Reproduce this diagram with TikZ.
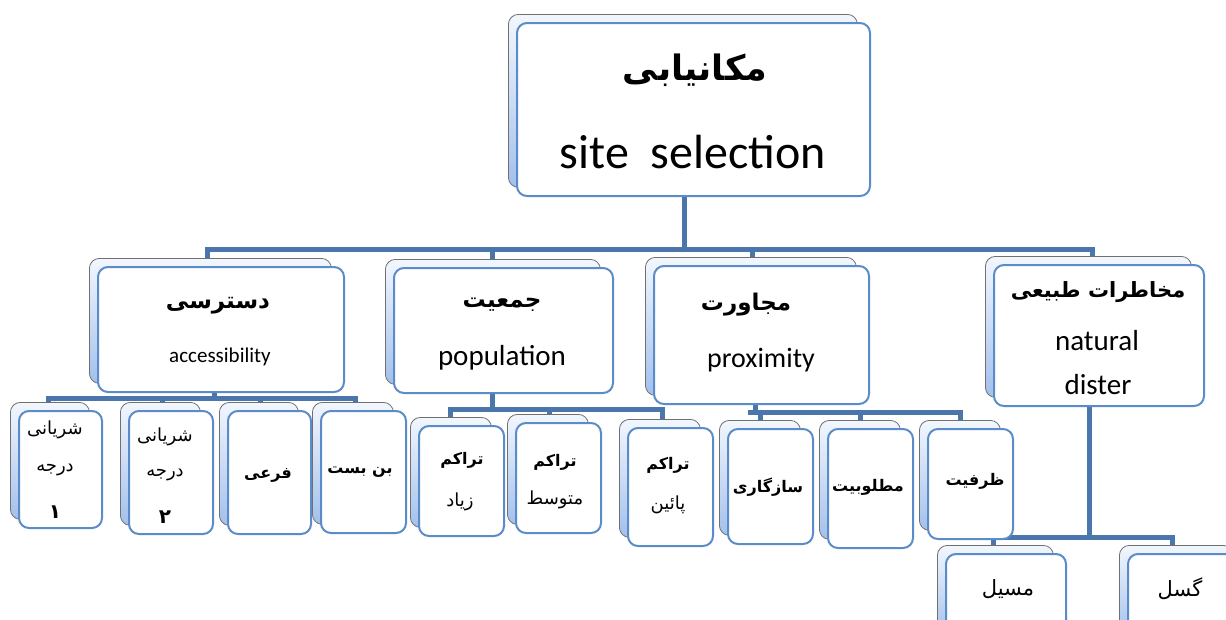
\documentclass[tikz,border=0pt]{standalone}
\usepackage{fontspec}
\setmainfont{Carlito}
\newfontfamily\fa[Script=Arabic]{DejaVu Sans}
\TeXXeTstate=1
\usetikzlibrary{backgrounds}
\definecolor{frontblue}{HTML}{5B8BC8}
\definecolor{connblue}{HTML}{4A76AC}
\definecolor{backgray}{HTML}{707070}
\definecolor{backtop}{HTML}{F2F7FE}
\definecolor{backbot}{HTML}{A2C0EC}
\tikzset{
  frontbox/.style={draw=frontblue, line width=2pt, fill=white, rounded corners=10pt, inner sep=0pt},
  backbox/.style={draw=backgray, line width=0.8pt, top color=backtop, bottom color=backbot, rounded corners=10pt, inner sep=0pt},
  conn/.style={draw=connblue, line width=5pt, line cap=rect},
  fatxt/.style={font=\fa, inner sep=0pt},
  entxt/.style={inner sep=0pt},
}
\newcommand\rtl[1]{\beginR #1\endR}
% #1 name, #2 x1, #3 y1, #4 x2, #5 y2 of the front box (pixels)
\newcommand\pairbox[5]{%
  \node[backbox, anchor=north west, minimum width={(#4-#2-4)*1pt}, minimum height={(#5-#3)*1pt}] (#1b) at ({#2-8},{#3-8}) {};
  \node[frontbox, anchor=north west, minimum width={(#4-#2)*1pt}, minimum height={(#5-#3)*1pt}] (#1) at (#2,#3) {};
}
\begin{document}
\begin{tikzpicture}[x=1pt,y=-1pt]
\useasboundingbox (0,0) rectangle (1226,619);

% boxes
\pairbox{top}{516}{22}{869}{195}
\pairbox{acc}{97}{266}{343}{391}
\pairbox{pop}{393}{267}{612}{392}
\pairbox{prox}{653}{265}{868}{403}
\pairbox{nat}{993}{264}{1203}{405}
\pairbox{aa}{18}{410}{101}{527}
\pairbox{ab}{128}{410}{212}{533}
\pairbox{ac}{227}{410}{310}{533}
\pairbox{ad}{320}{410}{405}{532}
\pairbox{pa}{418}{425}{503}{535}
\pairbox{pb}{515}{422}{600}{532}
\pairbox{pc}{627}{427}{712}{545}
\pairbox{xa}{727}{428}{812}{543}
\pairbox{xb}{827}{428}{912}{547}
\pairbox{xc}{927}{428}{1012}{538}
\pairbox{na}{945}{553}{1065}{645}
\pairbox{nb}{1127}{553}{1245}{645}

% connectors
\begin{scope}[on background layer]
  \fill[white] (0,0) rectangle (1226,619);
  \coordinate (c0) at (684,249);
  \coordinate (busL) at (207,249);
  \coordinate (busR) at (1092,249);
  \coordinate (dPop) at (492,249);
  \coordinate (dProx) at (752,249);
  \draw[conn] (c0 |- top.south) -- (c0);
  \draw[conn] (busL) -- (busR);
  \draw[conn] (busL) -- (busL |- accb.north);
  \draw[conn] (dPop) -- (dPop |- popb.north);
  \draw[conn] (dProx) -- (dProx |- proxb.north);
  \draw[conn] (busR) -- (busR |- natb.north);
  % accessibility children
  \coordinate (a0) at (214,398);
  \coordinate (aL) at (48,398);
  \coordinate (aR) at (355,398);
  \coordinate (a2) at (162,398);
  \coordinate (a3) at (260,398);
  \draw[conn] (a0 |- acc.south) -- (a0);
  \draw[conn] (aL) -- (aR);
  \draw[conn] (aL) -- (aL |- aab.north);
  \draw[conn] (a2) -- (a2 |- abb.north);
  \draw[conn] (a3) -- (a3 |- acb.north);
  \draw[conn] (aR) -- (aR |- adb.north);
  % population children
  \coordinate (p0) at (492,409);
  \coordinate (pL) at (450,409);
  \coordinate (pM) at (549,409);
  \coordinate (pR) at (662,409);
  \draw[conn] (p0 |- pop.south) -- (p0);
  \draw[conn] (pL) -- (pR);
  \draw[conn] (pL) -- (pL |- pab.north);
  \draw[conn] (pM) -- (pM |- pbb.north);
  \draw[conn] (pR) -- (pR |- pcb.north);
  % proximity children
  \coordinate (x0) at (755,412);
  \coordinate (xL) at (750,412);
  \coordinate (xA) at (760,412);
  \coordinate (xM) at (860,412);
  \coordinate (xR) at (960,412);
  \draw[conn] (x0 |- prox.south) -- (x0);
  \draw[conn] (xL) -- (xR);
  \draw[conn] (xA) -- (xA |- xab.north);
  \draw[conn] (xM) -- (xM |- xbb.north);
  \draw[conn] (xR) -- (xR |- xcb.north);
  % natural children
  \coordinate (n0) at (1089,537);
  \coordinate (nL) at (993,537);
  \coordinate (nR) at (1172,537);
  \draw[conn] (n0 |- nat.south) -- (n0);
  \draw[conn] (nL) -- (nR);
  \draw[conn] (nL) -- (nL |- nab.north);
  \draw[conn] (nR) -- (nR |- nbb.north);
\end{scope}

% texts
\node[fatxt, font=\fa\bfseries\fontsize{35}{40}\selectfont] (tTopFa) at (695,70) {\rtl{مکانیابی}};
\node[entxt, font=\fontsize{48}{54}\selectfont] (tTopEn) at (693,152) {site\ \ selection};

\node[fatxt, font=\fa\bfseries\fontsize{23}{26}\selectfont] (tAccFa) at (218,306) {\rtl{دسترسی}};
\node[entxt, font=\fontsize{21}{24}\selectfont] (tAccEn) at (220,357) {accessibility};
\node[fatxt, font=\fa\bfseries\fontsize{23}{26}\selectfont] (tPopFa) at (502,305) {\rtl{جمعیت}};
\node[entxt, font=\fontsize{29}{32}\selectfont] (tPopEn) at (502,358) {population};
\node[fatxt, font=\fa\bfseries\fontsize{23}{26}\selectfont] (tProxFa) at (746,305) {\rtl{مجاورت}};
\node[entxt, font=\fontsize{28}{32}\selectfont] (tProxEn) at (761,360) {proximity};
\node[fatxt, font=\fa\bfseries\fontsize{21}{26}\selectfont] (tNatFa) at (1098,292) {\rtl{مخاطرات طبیعی}};
\node[entxt, font=\fontsize{29}{32}\selectfont] (tNatEn1) at (1097,341) {natural};
\node[entxt, font=\fontsize{29}{32}\selectfont] (tNatEn2) at (1098,385) {dister};

\tikzset{small/.style={fatxt, font=\fa\fontsize{18}{20}\selectfont},
         smallb/.style={fatxt, font=\fa\bfseries\fontsize{16}{18}\selectfont},
         digit/.style={fatxt, font=\fa\bfseries\fontsize{20}{22}\selectfont},
         big/.style={fatxt, font=\fa\fontsize{21}{24}\selectfont}}
\node[small] (ta1) at (55,430) {\rtl{شریانی}};
\node[small] (ta2) at (55,470) {\rtl{درجه}};
\node[digit] (ta3) at (55,512) {\rtl{۱}};
\node[small] (tb1) at (165,437) {\rtl{شریانی}};
\node[small] (tb2) at (165,475) {\rtl{درجه}};
\node[digit] (tb3) at (165,517) {\rtl{۲}};
\node[smallb] (tc1) at (268,475) {\rtl{فرعی}};
\node[smallb] (td1) at (360,472) {\rtl{بن بست}};
\node[smallb] (tpa1) at (462,460) {\rtl{تراکم}};
\node[small] (tpa2) at (460,502) {\rtl{زیاد}};
\node[smallb] (tpb1) at (555,462) {\rtl{تراکم}};
\node[small] (tpb2) at (555,500) {\rtl{متوسط}};
\node[smallb] (tpc1) at (668,465) {\rtl{تراکم}};
\node[small] (tpc2) at (668,505) {\rtl{پائین}};
\node[smallb] (txa) at (768,487) {\rtl{سازگاری}};
\node[smallb] (txb) at (868,487) {\rtl{مطلوبیت}};
\node[smallb] (txc) at (975,481) {\rtl{ظرفیت}};
\node[big] (tna) at (1008,589) {\rtl{مسیل}};
\node[big] (tnb) at (1180,589) {\rtl{گسل}};
\end{tikzpicture}
\end{document}
